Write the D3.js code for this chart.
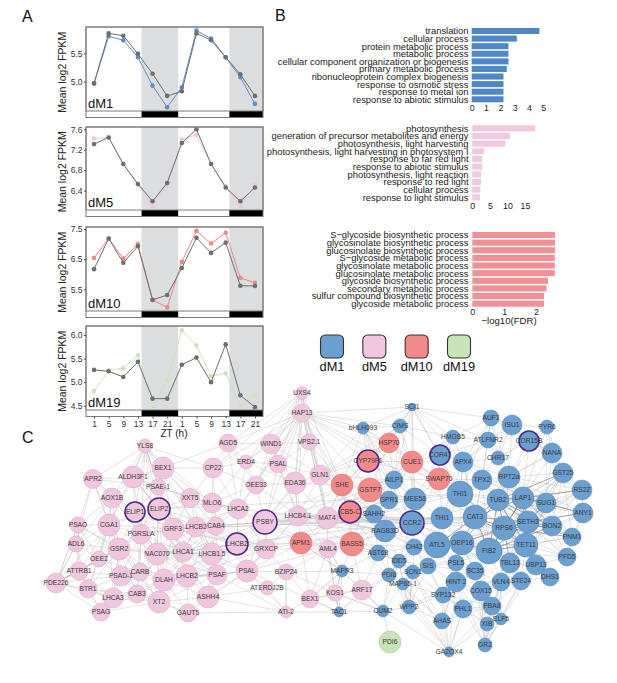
<!DOCTYPE html>
<html>
<head>
<meta charset="utf-8">
<script src="https://cdn.jsdelivr.net/npm/d3@7"></script>
<style>
  body { margin: 0; background: #fff; }
  svg text { font-family: "Liberation Sans", Arial, sans-serif; }
</style>
</head>
<body>
<div id="figure"></div>
<script>
// ---------- Panel A data: mean log2 FPKM over two days ----------
const ztHours  = [1, 5, 9, 13, 17, 21, 25, 29, 33, 37, 41, 45];
const ztLabels = ["1", "5", "9", "13", "17", "21", "1", "5", "9", "13", "17", "21"];

const dm1Grey  = [4.97, 5.85, 5.81, 5.49, 5.14, 4.75, 4.83, 5.85, 5.73, 5.43, 5.13, 4.75];
const dm1Mod   = [4.97, 5.80, 5.73, 5.43, 4.93, 4.55, 4.90, 5.90, 5.76, 5.43, 5.08, 4.61];
const dm5Grey  = [7.31, 7.44, 6.92, 6.53, 6.19, 6.55, 7.33, 7.60, 6.92, 6.46, 6.19, 6.46];
const dm5Mod   = [7.42, 7.44, 6.92, 6.52, 6.10, 6.52, 7.40, 7.49, 6.92, 6.49, 6.10, 6.52];
const dm10Grey = [6.17, 7.19, 6.38, 6.93, 5.15, 5.31, 6.21, 7.21, 6.71, 7.05, 5.62, 5.61];
const dm10Mod  = [6.54, 7.19, 6.52, 7.00, 5.15, 4.90, 6.41, 7.44, 7.02, 7.38, 5.88, 5.72];
const dm19Grey = [5.26, 5.23, 5.11, 5.43, 4.65, 4.65, 5.37, 5.52, 5.00, 5.80, 4.72, 4.47];
const dm19Mod  = [4.81, 5.25, 5.30, 5.57, 4.47, 5.04, 6.10, 5.78, 5.13, 5.19, 4.49, 4.73];

// night periods (ZT hours)
const nightStart = [14, 38];
const nightEnd   = [24, 48];

// ---------- Panel B data: GO enrichment, -log10(FDR) ----------
const goTerms1 = ["translation", "cellular process", "protein metabolic process", "metabolic process",
  "cellular component organization or biogenesis", "primary metabolic process",
  "ribonucleoprotein complex biogenesis", "response to osmotic stress", "response to metal ion",
  "response to abiotic stimulus"];
const goValues1 = [4.73, 3.15, 2.57, 2.57, 2.57, 2.45, 2.22, 2.22, 2.22, 2.22];

const goTerms2 = ["photosynthesis", "generation of precursor metabolites and energy",
  "photosynthesis, light harvesting", "photosynthesis, light harvesting in photosystem I",
  "response to far red light", "response to abiotic stimulus", "photosynthesis, light reaction",
  "response to red light", "cellular process", "response to light stimulus"];
const goValues2 = [17.9, 10.7, 9.4, 3.4, 2.8, 2.8, 2.5, 2.5, 2.3, 2.2];

const goTerms3 = ["S\u2212glycoside biosynthetic process", "glycosinolate biosynthetic process",
  "glucosinolate biosynthetic process", "S\u2212glycoside metabolic process",
  "glycosinolate metabolic process", "glucosinolate metabolic process",
  "glycoside biosynthetic process", "secondary metabolic process",
  "sulfur compound biosynthetic process", "glycoside metabolic process"];
const goValues3 = [2.60, 2.60, 2.60, 2.59, 2.59, 2.59, 2.38, 2.33, 2.25, 2.25];

const moduleNames = ["dM1", "dM5", "dM10", "dM19"];

// ---------- Panel C data: co-expression network ----------
// [id, layout x, layout y, degree]
const pinkNodes = [
  ["YLS8",145,446,49], ["UXS4",302,393,40], ["HAP13",302,413,81], ["BEX1",163,468,121],
  ["APR2",93,479,90], ["ALDH3F1",133,477,121], ["PSAE-1",158,487,64], ["AOX1B",112,498,100],
  ["ELIP1",135,512,100], ["ELIP2",159,509,121], ["XXT5",190,498,90], ["MLO6",212,503,100],
  ["AGD5",228,443,81], ["WIND1",271,444,100], ["VPS2.1",309,442,64], ["CP22",213,468,100],
  ["ERD4",246,462,49], ["PSAL",278,464,81], ["OEE33",256,485,81], ["EDA36",295,483,121],
  ["GLN1",320,475,100], ["PSAO",78,525,64], ["CGA1",109,525,121], ["PGRSLA",141,534,100],
  ["GRF3",173,529,121], ["LHCB2",196,527,100], ["LHCA2",238,509,100], ["PSBY",265,522,144],
  ["LHCB4.1",298,516,100], ["MAT4",327,518,121], ["CAB4",216,526,81], ["ADL6",76,544,64],
  ["GSR2",119,549,121], ["OEE2",99,559,64], ["NAC070",157,554,121], ["LHCA1",183,552,100],
  ["LHCB1.5",212,554,121], ["LHCB2#2",237,544,121], ["GRXCP",266,549,100], ["AML4",328,549,81],
  ["ATTRB1",79,571,81], ["PSAD-1",121,576,100], ["CARB",140,572,81], ["DLAH",164,580,121],
  ["LHCB2#3",187,576,121], ["PSAF",217,575,100], ["PSAL#2",247,571,121], ["BZIP24",286,572,64],
  ["ATERDJ2B",267,588,49], ["PDE226",56,583,100], ["BTR1",88,589,81], ["LHCA3",113,598,100],
  ["CAB3",137,594,81], ["XT2",159,602,121], ["ASHH4",208,597,121], ["PSAG",101,612,81],
  ["GAUT5",188,613,81], ["BEX1#2",310,599,81], ["KOS1",335,593,64], ["ARF17",362,590,100],
  ["ATI-2",286,612,36]
];
const salmonNodes = [
  ["HSP70",389,443,100], ["CYP79F1",368,461,121], ["SHE",342,485,121], ["GSTF7",370,490,144],
  ["CUE1",412,462,121], ["SWAP70",439,479,121], ["CB5-C",350,512,121], ["APM1",301,543,121],
  ["BASS5",352,544,144]
];
const blueNodes = [
  ["SCI1",412,407,16], ["bHLH093",363,428,36], ["CIMS",400,426,49], ["HMGB5",453,437,49],
  ["AUF1",491,418,64], ["ISU1",512,425,100], ["ATLFNR2",488,440,64], ["COR15B",529,441,100],
  ["PYR6",547,427,49], ["COR47",440,455,100], ["CHR17",498,458,49], ["NANA",552,453,100],
  ["APX4",463,462,100], ["AILP1",394,480,81], ["TPX2",482,480,100], ["RPT2a",509,477,121],
  ["GST25",563,473,100], ["RS2Z",582,490,100], ["GPR1",389,500,81], ["MEE58",415,499,121],
  ["THI1",460,494,169], ["TUB2",498,500,121], ["LAP1",523,498,121], ["SUG1",546,503,100],
  ["ANY1",583,513,100], ["SAHH2",374,514,81], ["CCR2",412,523,144], ["THI1#2",442,518,121],
  ["CAT3",475,517,144], ["RPS6",504,528,144], ["SETH3",528,522,121], ["BON2",552,526,100],
  ["PNM1",572,537,81], ["RAGB3D",385,531,121], ["AST68",378,553,64], ["CH42",414,547,64],
  ["ATL5",437,545,169], ["OEP16",462,543,144], ["FIB2",489,551,169], ["TET11",526,545,144],
  ["PFD5",567,557,81], ["IDD5",399,561,49], ["SIS",428,566,64], ["PSL5",456,563,64],
  ["SC35",475,571,81], ["TBL13",510,563,100], ["UBP13",536,565,100], ["DHS1",550,577,81],
  ["STE24",521,581,81], ["VLN4",501,582,81], ["SCN1",413,572,49], ["MAPR3",342,571,36],
  ["PDI8",389,575,49], ["MAP65-1",403,584,36], ["HINT_2",456,582,100], ["COX15",481,591,100],
  ["SYP132",443,595,64], ["PHL1",463,609,81], ["FBA8",492,606,81], ["ELF5",501,619,36],
  ["XIB",487,624,49], ["TAC1",339,612,25], ["CUM2",383,611,36], ["WPP2",409,607,49],
  ["AHAS",442,621,64], ["GR2",485,645,49], ["GA2OX4",449,652,25]
];
const greenNodes = [["PDI6",390,642,121]];

// hub genes drawn with a ring
const ringGenes = ["ELIP1", "ELIP2", "PSBY", "LHCB2#2", "CYP79F1", "CB5-C", "CCR2", "COR47", "COR15B"];

// adjacency: "source: target target ..."
const edgeLists = [
  "YLS8: BEX1 ALDH3F1 APR2 PSAE-1 ELIP2 CGA1 GRF3 XXT5 CP22 LHCB2 ELIP1 PGRSLA NAC070 LHCA1 MLO6 AOX1B",
  "UXS4: HAP13 AGD5 WIND1 VPS2.1 EDA36 GLN1 CP22 PSAL ERD4 OEE33 SHE MAT4",
  "HAP13: WIND1 VPS2.1 PSAL EDA36 GLN1 AGD5 CYP79F1 SHE MAT4 LHCB4.1 ERD4 CP22 THI1 CAT3 HSP70 GSTF7 CB5-C bHLH093 LHCA2 PSBY OEE33 SCI1 CIMS",
  "APR2: ALDH3F1 AOX1B PSAO CGA1 ELIP1 ADL6 GSR2 PSAE-1",
  "BEX1: ALDH3F1 PSAE-1 ELIP2 XXT5 CP22 GRF3 MLO6 AGD5 LHCB2",
  "ALDH3F1: PSAE-1 AOX1B ELIP1 ELIP2 CGA1 PGRSLA GRF3 XXT5",
  "PSAE-1: ELIP1 ELIP2 XXT5 GRF3 PGRSLA NAC070 LHCB2 MLO6",
  "AOX1B: ELIP1 CGA1 PSAO PGRSLA GSR2 ADL6 OEE2",
  "ELIP1: ELIP2 CGA1 PGRSLA GRF3 GSR2 NAC070 CARB LHCA1",
  "ELIP2: GRF3 XXT5 PGRSLA LHCB2 NAC070 LHCA1 MLO6 CAB4 THI1 LHCB1.5 CGA1 GSR2 AOX1B ALDH3F1 BEX1 LHCB2#3 DLAH",
  "XXT5: MLO6 LHCB2 GRF3 CP22 LHCA2 CAB4 LHCB1.5",
  "MLO6: CP22 LHCA2 CAB4 LHCB2 LHCB1.5 OEE33 PSBY ERD4",
  "PSAO: CGA1 ADL6 OEE2 GSR2 ATTRB1 PDE226",
  "CGA1: PGRSLA GSR2 OEE2 NAC070 PSAD-1 ADL6 CARB GRF3 ATTRB1 BTR1 LHCA3",
  "PGRSLA: GRF3 NAC070 GSR2 CARB DLAH LHCA1 PSAD-1 AOX1B LHCB2 LHCB2#3 CAB3 XT2 OEE2",
  "GRF3: LHCB2 LHCA1 NAC070 LHCB1.5 DLAH LHCB2#3 CAB4 CAT3 THI1#2 LHCA2 PSBY GRXCP LHCB2#2 PSAF",
  "LHCB2: CAB4 LHCB1.5 LHCA1 LHCA2 LHCB2#2 PSAF",
  "ADL6: OEE2 GSR2 ATTRB1 PDE226 BTR1",
  "GSR2: OEE2 NAC070 PSAD-1 CARB ATTRB1 BTR1 LHCA3 DLAH XT2 CAB3 PDE226 PSAO",
  "OEE2: ATTRB1 PSAD-1 CARB BTR1 PDE226",
  "NAC070: LHCA1 DLAH CARB PSAD-1 LHCB2#3 XT2 CAB3 THI1#2 LHCB2 LHCB1.5 PSAF",
  "LHCA1: LHCB1.5 LHCB2#3 DLAH PSAF LHCB2#2 CAB4 ASHH4 GSR2 CARB LHCB2 PSAL#2 XT2",
  "LHCB1.5: CAB4 LHCB2#2 PSAF LHCB2#3 PSAL#2 GRXCP ASHH4 CAT3 THI1",
  "ATTRB1: PDE226 BTR1 PSAD-1 LHCA3 PSAG",
  "PSAD-1: CARB LHCA3 CAB3 BTR1 DLAH PSAG",
  "CARB: CAB3 DLAH LHCA3 XT2",
  "DLAH: LHCB2#3 XT2 CAB3 GAUT5 PSAF LHCB1.5 PSAL#2 ASHH4 LHCA3",
  "LHCB2#3: PSAF ASHH4 XT2 GAUT5 PSAL#2 CARB CAB3 LHCB2#2 GRXCP",
  "PDE226: BTR1 PSAG PSAO ADL6 ATTRB1 OEE2 PSAD-1 LHCA3 CGA1 GSR2",
  "BTR1: LHCA3 PSAG CAB3",
  "LHCA3: CAB3 PSAG XT2",
  "CAB3: XT2 PSAG GAUT5",
  "XT2: GAUT5 ASHH4 PSAG PSAD-1 BTR1 PSAF",
  "GAUT5: ASHH4 PSAF PSAL#2 ATI-2",
  "ASHH4: PSAF PSAL#2 ATERDJ2B",
  "AGD5: CP22 ERD4 WIND1 OEE33 LHCA2",
  "WIND1: PSAL VPS2.1 ERD4 EDA36 OEE33 GLN1",
  "VPS2.1: PSAL GLN1 EDA36 MAT4 SHE",
  "CP22: ERD4 OEE33 LHCA2 CAB4",
  "ERD4: PSAL OEE33 LHCA2 EDA36",
  "PSAL: OEE33 EDA36 GLN1 LHCB4.1 PSBY",
  "OEE33: EDA36 LHCA2 PSBY LHCB4.1",
  "EDA36: GLN1 LHCB4.1 PSBY MAT4 SHE",
  "GLN1: MAT4 SHE CYP79F1 LHCB4.1 CB5-C GSTF7 HSP70 bHLH093 CIMS AILP1",
  "LHCA2: PSBY CAB4 LHCB2#2 GRXCP LHCB4.1",
  "PSBY: LHCB4.1 GRXCP LHCB2#2 CAB4 MAT4 APM1 PSAL#2 CB5-C RAGB3D LHCA1 LHCB1.5 EDA36 GLN1 AML4 SHE GSTF7 CCR2 THI1#2 SAHH2",
  "CAB4: LHCB2#2 PSAF GRXCP NAC070 PSBY LHCB2#3 DLAH PSAL#2",
  "LHCB2#2: GRXCP PSAF PSAL#2 LHCA1 LHCB2 LHCA2 DLAH LHCB4.1 APM1",
  "GRXCP: PSAL#2 BZIP24 APM1 LHCB4.1 AML4",
  "LHCB4.1: MAT4 APM1 AML4 CB5-C CCR2 PSAL EDA36 SHE BASS5 RAGB3D SAHH2 THI1#2",
  "MAT4: CB5-C SHE APM1 AML4 BASS5 GSTF7 THI1#2 CCR2 CYP79F1 SAHH2 RAGB3D GPR1 AST68 ATL5",
  "AML4: APM1 BASS5 MAPR3 KOS1 BZIP24",
  "PSAF: PSAL#2 ASHH4",
  "PSAL#2: BZIP24 ATERDJ2B ATI-2 GRXCP LHCB4.1 APM1 AML4 BEX1#2",
  "BZIP24: ATERDJ2B ATI-2 BEX1#2 KOS1",
  "BEX1#2: ATI-2 KOS1 ARF17 TAC1 MAPR3 AML4 APM1",
  "KOS1: ARF17 TAC1 MAPR3 CUM2",
  "ARF17: MAPR3 CUM2 PDI8 BASS5 AST68",
  "ATI-2: ATERDJ2B BZIP24 PSAF ASHH4",
  "HSP70: CYP79F1 CUE1 CIMS bHLH093 AILP1 SWAP70 GSTF7 SCI1 SHE",
  "CYP79F1: SHE GSTF7 CUE1 bHLH093 AILP1 CB5-C CIMS GPR1 MEE58 SWAP70 SCI1",
  "SHE: GSTF7 CB5-C MAT4 BASS5 SAHH2 GPR1",
  "GSTF7: CB5-C SAHH2 GPR1 AILP1 CUE1 BASS5 MEE58 CCR2 RAGB3D",
  "CUE1: SWAP70 AILP1 MEE58 COR47 CIMS GPR1 CCR2 THI1 APX4 HMGB5 GSTF7",
  "SWAP70: COR47 MEE58 THI1 APX4 CCR2 HMGB5 AILP1 THI1#2 CAT3 TPX2",
  "CB5-C: SAHH2 BASS5 RAGB3D GPR1 APM1 AILP1 CCR2 MEE58 AST68 CH42",
  "APM1: BASS5 RAGB3D AST68 MAPR3",
  "BASS5: RAGB3D AST68 SAHH2 MAPR3 CCR2 CH42 IDD5 PDI8",
  "SCI1: CIMS bHLH093 HMGB5 AUF1 COR47 CUE1 AILP1 MEE58 THI1 APX4 ATLFNR2",
  "bHLH093: CIMS AILP1 GPR1 CCR2 SHE MEE58 CUE1",
  "CIMS: AILP1 HMGB5 COR47 MEE58",
  "AILP1: GPR1 MEE58 CCR2 SAHH2",
  "GPR1: MEE58 SAHH2 CCR2 RAGB3D",
  "MEE58: CCR2 THI1#2 THI1 COR47",
  "COR47: HMGB5 APX4 THI1 ATLFNR2",
  "HMGB5: ATLFNR2 AUF1 APX4",
  "AUF1: ISU1 ATLFNR2 CHR17 COR15B APX4 TPX2 RPT2a THI1",
  "ISU1: COR15B ATLFNR2 CHR17 PYR6 NANA RPT2a",
  "ATLFNR2: CHR17 APX4 TPX2",
  "COR15B: PYR6 NANA CHR17 RPT2a GST25 LAP1",
  "PYR6: NANA GST25 RPT2a LAP1 SUG1 CHR17",
  "NANA: GST25 RPT2a SUG1 LAP1",
  "CHR17: APX4 TPX2 RPT2a",
  "APX4: TPX2 THI1 CAT3 RPT2a TUB2 LAP1 ISU1",
  "TPX2: RPT2a THI1 TUB2 CAT3 LAP1 SUG1 SETH3 RPS6 FIB2 ISU1",
  "RPT2a: TUB2 LAP1 SUG1 GST25 SETH3 RPS6 TET11 BON2 ANY1 RS2Z NANA",
  "GST25: RS2Z SUG1 ANY1 BON2 LAP1 NANA SETH3 PNM1",
  "RS2Z: ANY1 SUG1 BON2",
  "THI1: THI1#2 CAT3 TUB2 ATL5 OEP16 TPX2 APX4 RPT2a LAP1 RPS6 SETH3 FIB2 TET11",
  "SUG1: ANY1 BON2 SETH3 PNM1",
  "ANY1: BON2 PNM1 PFD5",
  "CCR2: THI1#2 CH42 ATL5 RAGB3D SAHH2 IDD5 CAT3 OEP16 FIB2 RPS6 SETH3 TUB2",
  "THI1#2: CAT3 ATL5 OEP16 CH42 APX4 TPX2 RPS6 FIB2 TET11",
  "BON2: PNM1 TET11 PFD5",
  "PNM1: PFD5 TET11",
  "SAHH2: RAGB3D AST68",
  "RAGB3D: AST68 CH42 IDD5 PDI8",
  "AST68: CH42 IDD5 MAPR3 PDI8",
  "CH42: IDD5 ATL5 SIS SCN1",
  "ATL5: OEP16 SIS PSL5 FIB2 HINT_2 RPS6 TET11 SETH3 TUB2 IDD5 SC35 TBL13",
  "OEP16: PSL5 SC35 TBL13 TET11 SETH3 LAP1 HINT_2 COX15 VLN4",
  "FIB2: TBL13 SC35 VLN4 UBP13 COX15 PSL5 HINT_2 STE24 DHS1 PFD5 PNM1 GST25 RS2Z",
  "TET11: UBP13 TBL13 PFD5 DHS1 STE24 BON2 SUG1 ANY1 RS2Z GST25 VLN4 COX15",
  "SETH3: RS2Z GST25 PFD5 TBL13",
  "RPS6: GST25 RS2Z ANY1 SUG1 UBP13 DHS1 STE24 VLN4 PFD5",
  "CAT3: TBL13 UBP13 APX4 TPX2 RPT2a",
  "TUB2: RPT2a SUG1 ANY1 RS2Z PNM1 PFD5 UBP13",
  "LAP1: RPT2a GST25 PNM1 PFD5 UBP13 TBL13",
  "TBL13: UBP13 VLN4 STE24",
  "UBP13: DHS1 STE24 PFD5",
  "IDD5: SCN1 SIS PDI8 MAP65-1",
  "SCN1: SIS MAP65-1 WPP2",
  "SIS: PSL5 HINT_2 SYP132 SC35 FIB2",
  "PSL5: SC35 HINT_2",
  "SC35: HINT_2 COX15 VLN4",
  "HINT_2: COX15 SYP132 PHL1 VLN4 FBA8 XIB AHAS",
  "COX15: VLN4 FBA8 PHL1 STE24 TBL13 XIB ELF5 GR2",
  "VLN4: STE24 FBA8 UBP13 ELF5 XIB GR2 PHL1",
  "STE24: DHS1 FBA8 ELF5",
  "SYP132: PHL1 FBA8 XIB PSL5 SC35 CH42 IDD5",
  "PDI8: MAP65-1 CUM2 WPP2 IDD5 SCN1 CH42 MAPR3 TAC1",
  "MAP65-1: WPP2 CUM2 SYP132",
  "CUM2: PDI6 WPP2 TAC1 ARF17 KOS1 MAPR3 IDD5",
  "WPP2: AHAS SYP132 IDD5 SCN1 SIS HINT_2",
  "AHAS: SYP132 PHL1 GA2OX4 HINT_2 FBA8 MAP65-1 SCN1 PDI8",
  "PHL1: FBA8 XIB GR2 GA2OX4",
  "FBA8: XIB ELF5 GR2",
  "XIB: ELF5 GR2",
  "GA2OX4: SYP132 MAP65-1 WPP2 CUM2 XIB PHL1 HINT_2 FBA8 PDI8 SCN1",
  "GR2: ELF5 COX15 STE24 HINT_2 SC35 UBP13 TBL13",
  "MAPR3: TAC1 BEX1#2 KOS1 AML4 BZIP24 APM1",
  "TAC1: BEX1#2 KOS1 ARF17 AML4 ATI-2"
];
// strongly co-expressed pairs in the dM1 core
const strongLists = [
  "TUB2: LAP1 CAT3 RPS6 SETH3 FIB2 OEP16 TET11 GST25 BON2",
  "LAP1: SUG1 SETH3 RPS6 BON2 TET11 FIB2 RS2Z ANY1",
  "CAT3: RPS6 OEP16 ATL5 FIB2 SETH3 LAP1 TET11",
  "RPS6: SETH3 FIB2 TET11 OEP16 BON2 TBL13 PNM1",
  "SETH3: BON2 TET11 FIB2 PNM1 UBP13 ANY1 SUG1",
  "FIB2: TET11 OEP16 BON2"
];

// ---------- Colours ----------
const moduleFill   = {dM1: "#6b9fcf", dM5: "#f0c7df", dM10: "#f28a8a", dM19: "#c8e4b8"};
const moduleStroke = {dM1: "#5b8cba", dM5: "#ddaecb", dM10: "#dd7b7b", dM19: "#a9cd97"};
const lineColor    = {dM1: "#5a8fcc", dM5: "#f2c4dc", dM10: "#f08585", dM19: "#cbe4ba"};
const barColor     = ["#4f86c6", "#f1c8df", "#f39096"];

var svg;
const width = 617, height = 683;

document.addEventListener("DOMContentLoaded", function(event) {
     svg = d3.select("#figure")
          .append("svg")
          .attr("width", width)
          .attr("height", height);

     svg.append("rect").attr("width", width).attr("height", height).attr("fill", "#fff");

     // panel letters
     [["A", 22, 22], ["B", 275, 21], ["C", 22, 443]].forEach(function(p) {
          svg.append("text").attr("x", p[1]).attr("y", p[2])
               .attr("font-size", 16).attr("fill", "#111").text(p[0]);
     });

     DrawNetwork();
     DrawProfiles();
     DrawEnrichment();
     DrawLegend();
});

// ---------- Panel A ----------
function DrawProfiles()
{
     let x = d3.scaleLinear().domain([-1.2, 47.2]).range([86, 263]);
     const stripH = 6.5;

     const panels = [
          {name: "dM1",  grey: dm1Grey,  mod: dm1Mod,  top: 27,  bottom: 111, dom: [4.484, 5.963], ticks: [5.0, 5.5]},
          {name: "dM5",  grey: dm5Grey,  mod: dm5Mod,  top: 127, bottom: 210, dom: [6.02, 7.645],  ticks: [6.4, 6.8, 7.2, 7.6]},
          {name: "dM10", grey: dm10Grey, mod: dm10Mod, top: 227, bottom: 311, dom: [4.78, 7.57],   ticks: [5.5, 6.5, 7.5]},
          {name: "dM19", grey: dm19Grey, mod: dm19Mod, top: 326, bottom: 410, dom: [4.41, 6.19],   ticks: [4.5, 5.0, 5.5, 6.0]}
     ];

     panels.forEach(function(p) {
          let y = d3.scaleLinear().domain(p.dom).range([p.bottom, p.top]);
          let g = svg.append("g");

          g.append("rect").attr("x", 86).attr("y", p.top).attr("width", 177).attr("height", p.bottom - p.top).attr("fill", "#fff");

          // night shading
          g.selectAll(".night")
               .data(nightStart)
               .enter()
               .append("rect")
               .attr("x", function(d) { return x(d); })
               .attr("width", function(d, i) { return Math.min(x(nightEnd[i]), x.range()[1]) - x(d); })
               .attr("y", p.top)
               .attr("height", p.bottom - p.top)
               .attr("fill", "#dcdddf");

          // module series, then all-genes series on top
          [[p.mod, lineColor[p.name]], [p.grey, "#6e6e6e"]].forEach(function(s) {
               let pts = ztHours.map(function(h, i) { return [h, s[0][i]]; });
               g.append("path")
                    .attr("d", d3.line().x(function(d) { return x(d[0]); }).y(function(d) { return y(d[1]); })(pts))
                    .attr("fill", "none")
                    .attr("stroke", s[1])
                    .attr("stroke-width", 1);
               g.selectAll(null)
                    .data(pts)
                    .enter()
                    .append("circle")
                    .attr("cx", function(d) { return x(d[0]); })
                    .attr("cy", function(d) { return y(d[1]); })
                    .attr("r", 2.3)
                    .attr("fill", s[1]);
          });

          g.append("text")
               .attr("x", 88).attr("y", p.bottom - 3)
               .attr("font-size", 13).attr("fill", "#111")
               .text(p.name);

          // light / dark strip
          g.append("rect").attr("x", 86).attr("y", p.bottom).attr("width", 177).attr("height", stripH).attr("fill", "#fff");
          g.selectAll(".dark")
               .data(nightStart)
               .enter()
               .append("rect")
               .attr("x", function(d) { return x(d); })
               .attr("width", function(d, i) { return Math.min(x(nightEnd[i]), x.range()[1]) - x(d); })
               .attr("y", p.bottom)
               .attr("height", stripH)
               .attr("fill", "#000");

          // frames
          g.append("rect").attr("x", 86).attr("y", p.top).attr("width", 177).attr("height", p.bottom - p.top)
               .attr("fill", "none").attr("stroke", "#7a7a7a").attr("stroke-width", 1);
          g.append("rect").attr("x", 86).attr("y", p.top).attr("width", 177).attr("height", p.bottom - p.top + stripH)
               .attr("fill", "none").attr("stroke", "#7a7a7a").attr("stroke-width", 1);

          // y axis
          let ax = g.append("g")
               .attr("transform", "translate(86,0)")
               .call(d3.axisLeft(y).tickValues(p.ticks).tickSize(2).tickPadding(1.5).tickFormat(d3.format(".1f")));
          ax.select(".domain").remove();
          ax.selectAll("line").attr("stroke", "#444");
          ax.selectAll("text").attr("font-size", 8.5).attr("fill", "#333")
               .style("font-family", "Liberation Sans, Arial, sans-serif");

          g.append("text")
               .attr("transform", "translate(66," + ((p.top + p.bottom + stripH) / 2) + ") rotate(-90)")
               .attr("text-anchor", "middle")
               .attr("font-size", 10.5).attr("fill", "#222")
               .text("Mean log2 FPKM");
     });

     // shared x axis
     let xa = svg.append("g")
          .attr("transform", "translate(0," + (410 + stripH) + ")")
          .call(d3.axisBottom(x).tickValues(ztHours).tickSize(2).tickPadding(2)
               .tickFormat(function(d, i) { return ztLabels[i]; }));
     xa.select(".domain").remove();
     xa.selectAll("line").attr("stroke", "#444");
     xa.selectAll("text").attr("font-size", 8.5).attr("fill", "#333")
          .style("font-family", "Liberation Sans, Arial, sans-serif");

     svg.append("text")
          .attr("x", 174).attr("y", 437)
          .attr("text-anchor", "middle")
          .attr("font-size", 10).attr("fill", "#222")
          .text("ZT (h)");
}

// ---------- Panel B ----------
function DrawEnrichment()
{
     const charts = [
          {terms: goTerms1, values: goValues1, color: barColor[0], dom: [0, 5], range: [471.7, 543.3], band: [27.2, 103.1], ticks: [0, 1, 2, 3, 4, 5]},
          {terms: goTerms2, values: goValues2, color: barColor[1], dom: [0, 15], range: [472.3, 525], band: [124.5, 201.1], ticks: [0, 5, 10, 15]},
          {terms: goTerms3, values: goValues3, color: barColor[2], dom: [0, 2], range: [472.3, 536], band: [231.2, 307.5], ticks: [0, 1, 2]}
     ];

     charts.forEach(function(c, k) {
          let x = d3.scaleLinear().domain(c.dom).range(c.range);
          let y = d3.scaleBand().domain(c.terms).range(c.band).paddingInner(0.2).paddingOuter(0.1);
          let g = svg.append("g");

          g.selectAll("rect")
               .data(c.terms)
               .enter()
               .append("rect")
               .attr("x", x(0))
               .attr("y", function(d) { return y(d); })
               .attr("width", function(d, i) { return x(c.values[i]) - x(0); })
               .attr("height", y.bandwidth())
               .attr("fill", c.color);

          g.selectAll(".term")
               .data(c.terms)
               .enter()
               .append("text")
               .attr("x", 468.5)
               .attr("y", function(d) { return y(d) + y.bandwidth() / 2; })
               .attr("dy", "0.36em")
               .attr("text-anchor", "end")
               .attr("font-size", 9.4)
               .attr("fill", "#1a1a1a")
               .text(function(d) { return d; });

          let ax = g.append("g")
               .attr("transform", "translate(0," + c.band[1] + ")")
               .call(d3.axisBottom(x).tickValues(c.ticks).tickSize(0).tickPadding(1.5).tickFormat(d3.format("d")));
          ax.select(".domain").remove();
          ax.selectAll("text").attr("font-size", 8.8).attr("fill", "#222")
               .style("font-family", "Liberation Sans, Arial, sans-serif");

          if (k == 2) {
               g.append("text")
                    .attr("x", 509).attr("y", 324)
                    .attr("text-anchor", "middle")
                    .attr("font-size", 9.6).attr("fill", "#1a1a1a")
                    .text("\u2212log10(FDR)");
          }
     });
}

// ---------- Legend ----------
function DrawLegend()
{
     let lx = d3.scalePoint().domain(moduleNames).range([332, 459]);

     let items = svg.selectAll(".legend")
          .data(moduleNames)
          .enter()
          .append("g")
          .attr("transform", function(d) { return "translate(" + lx(d) + ",0)"; });

     items.append("rect")
          .attr("x", -11.5).attr("y", 335)
          .attr("width", 23).attr("height", 23)
          .attr("rx", 5)
          .attr("fill", function(d) { return moduleFill[d]; })
          .attr("stroke", "#333")
          .attr("stroke-width", 1.1);

     items.append("text")
          .attr("y", 371)
          .attr("text-anchor", "middle")
          .attr("font-size", 12.8)
          .attr("fill", "#111")
          .text(function(d) { return d; });
}

// ---------- Panel C ----------
function DrawNetwork()
{
     let nodes = [];
     [[pinkNodes, "dM5"], [salmonNodes, "dM10"], [blueNodes, "dM1"], [greenNodes, "dM19"]].forEach(function(m) {
          m[0].forEach(function(n) {
               nodes.push({id: n[0], label: n[0].split("#")[0].replace("_", " "), module: m[1], lx: n[1], ly: n[2], deg: n[3]});
          });
     });
     let byId = {};
     nodes.forEach(function(n) { byId[n.id] = n; });

     function parseEdges(lists) {
          let out = [];
          lists.forEach(function(line) {
               let parts = line.split(":");
               let src = parts[0].trim();
               parts[1].trim().split(/\s+/).forEach(function(t) {
                    if (byId[src] && byId[t]) out.push([byId[src], byId[t]]);
               });
          });
          return out;
     }
     let edges = parseEdges(edgeLists);
     let strong = parseEdges(strongLists);

     let nx = d3.scaleLinear().domain([50, 590]).range([50, 590]);
     let ny = d3.scaleLinear().domain([390, 655]).range([390, 655]);
     let nr = d3.scaleSqrt().domain([0, 169]).range([0, 13]);

     let g = svg.append("g");

     g.selectAll(".edge")
          .data(edges)
          .enter()
          .append("line")
          .attr("x1", function(d) { return nx(d[0].lx); })
          .attr("y1", function(d) { return ny(d[0].ly); })
          .attr("x2", function(d) { return nx(d[1].lx); })
          .attr("y2", function(d) { return ny(d[1].ly); })
          .attr("stroke", "#b8b8b8")
          .attr("stroke-opacity", 0.8)
          .attr("stroke-width", 0.5);

     g.selectAll(".strong")
          .data(strong)
          .enter()
          .append("line")
          .attr("x1", function(d) { return nx(d[0].lx); })
          .attr("y1", function(d) { return ny(d[0].ly); })
          .attr("x2", function(d) { return nx(d[1].lx); })
          .attr("y2", function(d) { return ny(d[1].ly); })
          .attr("stroke", "#6e6e6e")
          .attr("stroke-opacity", 0.75)
          .attr("stroke-width", 0.8);

     g.selectAll(".node")
          .data(nodes)
          .enter()
          .append("circle")
          .attr("cx", function(d) { return nx(d.lx); })
          .attr("cy", function(d) { return ny(d.ly); })
          .attr("r", function(d) { return nr(d.deg); })
          .attr("fill", function(d) { return moduleFill[d.module]; })
          .attr("stroke", function(d) { return ringGenes.indexOf(d.id) >= 0 ? "#4b2a8c" : moduleStroke[d.module]; })
          .attr("stroke-width", function(d) { return ringGenes.indexOf(d.id) >= 0 ? 1.6 : 0.6; });

     g.selectAll(".label")
          .data(nodes)
          .enter()
          .append("text")
          .attr("x", function(d) { return nx(d.lx); })
          .attr("y", function(d) { return ny(d.ly); })
          .attr("dy", "0.35em")
          .attr("text-anchor", "middle")
          .attr("font-size", 6.7)
          .attr("fill", "#3a3a3a")
          .text(function(d) { return d.label; });
}
</script>
</body>
</html>
